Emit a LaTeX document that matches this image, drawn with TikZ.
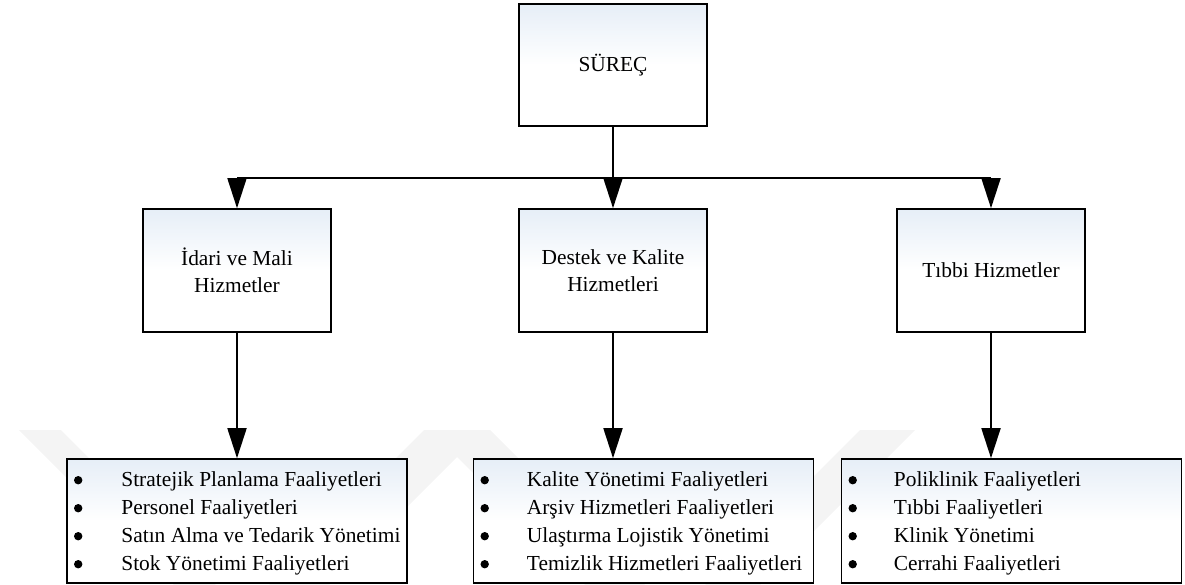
\documentclass[tikz,border=0pt]{standalone}
\usepackage{fontspec}
\setmainfont{Liberation Serif}
\usetikzlibrary{arrows.meta,calc}

\definecolor{boxtint}{RGB}{230,238,247}
\definecolor{wmgray}{RGB}{244,244,244}

\tikzset{
  unitbox/.style={draw=black, line width=1.6pt, top color=boxtint, bottom color=white,
    middle color=white, inner sep=0pt, align=center,
    font=\fontsize{21.4}{27.5}\selectfont},
  headbox/.style={unitbox, minimum width=188pt, minimum height=122pt},
  areabox/.style={unitbox, minimum width=188pt, minimum height=123pt},
  listbox/.style={unitbox, minimum width=340pt, minimum height=124pt},
  listtext/.style={inner sep=0pt, anchor=base west, font=\fontsize{21.4}{28}\selectfont},
  dot/.style={fill=black},
  link/.style={line width=1.8pt},
  arrowlink/.style={link, -{Triangle[length=30pt,width=19pt]}},
  wm/.style={fill=wmgray, draw=none}
}

\begin{document}
\begin{tikzpicture}[x=1pt,y=-1pt]
\useasboundingbox (0,0) rectangle (1185,585);

% faint background chevrons
\fill[wm] (19,430) -- (61,430) -- (216,585) -- (174,585) -- cycle;
\fill[wm] (424,430) -- (484,430) -- (329,585) -- (269,585) -- cycle;
\fill[wm] (430,430) -- (490,430) -- (645,585) -- (585,585) -- cycle;
\fill[wm] (860,430) -- (915,430) -- (760,585) -- (705,585) -- cycle;

% top process box
\node[headbox] (sur) at (613,65) {SÜREÇ};

% service areas
\node[areabox] (idari)  at (237,270.5) {İdari ve Mali\\Hizmetler};
\node[areabox] (destek) at (613,270.5) {Destek ve Kalite\\Hizmetleri};
\node[areabox] (tibbi)  at (991,270.5) {Tıbbi Hizmetler};

% activity lists
\node[listbox] (lstL) at (237,521)    {};
\node[listbox] (lstM) at (643.5,521)  {};
\node[listbox] (lstR) at (1011.5,521) {};

\foreach \b in {lstL,lstM,lstR}
  \foreach \k in {0,...,3}
    \fill[dot] ($(\b.north west)+(12,22+28*\k)$) circle (4.2pt);

\node[listtext] (txtL) at ($(lstL.north west)+(55,28)$) {\begin{tabular}[t]{@{}l@{}}
Stratejik Planlama Faaliyetleri\\
Personel Faaliyetleri\\
Satın Alma ve Tedarik Yönetimi\\
Stok Yönetimi Faaliyetleri
\end{tabular}};
\node[listtext] (txtM) at ($(lstM.north west)+(54,28)$) {\begin{tabular}[t]{@{}l@{}}
Kalite Yönetimi Faaliyetleri\\
Arşiv Hizmetleri Faaliyetleri\\
Ulaştırma Lojistik Yönetimi\\
Temizlik Hizmetleri Faaliyetleri
\end{tabular}};
\node[listtext] (txtR) at ($(lstR.north west)+(53,28)$) {\begin{tabular}[t]{@{}l@{}}
Poliklinik Faaliyetleri\\
Tıbbi Faaliyetleri\\
Klinik Yönetimi\\
Cerrahi Faaliyetleri
\end{tabular}};

% distribution bar
\coordinate (jL) at (237,178);
\coordinate (jM) at (613,178);
\coordinate (jR) at (991,178);

\draw[link] (sur.south) -- (jM);
\draw[link] (jL) -- (jR);
\draw[arrowlink] (jL) -- (idari.north);
\draw[arrowlink] (jM) -- (destek.north);
\draw[arrowlink] (jR) -- (tibbi.north);

% area to activity list
\draw[arrowlink] (idari.south)  -- (idari.south |- lstL.north);
\draw[arrowlink] (destek.south) -- (destek.south |- lstM.north);
\draw[arrowlink] (tibbi.south)  -- (tibbi.south |- lstR.north);
\end{tikzpicture}
\end{document}
